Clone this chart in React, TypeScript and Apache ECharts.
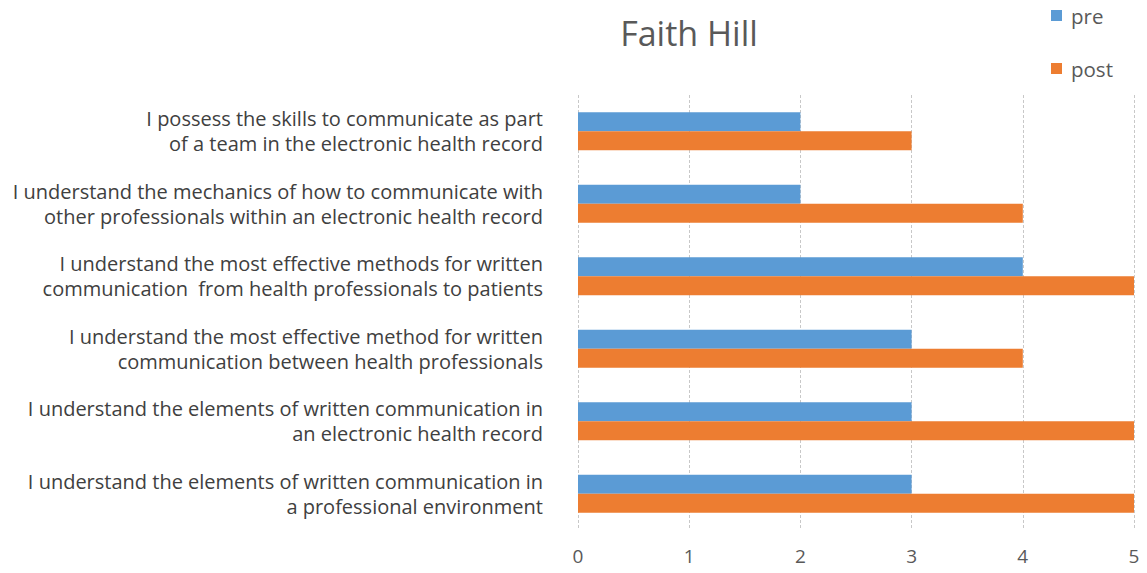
import React, { useEffect, useRef } from "react";
import * as echarts from "echarts";

const categories = [
  "I possess the skills to communicate as part\nof a team in the electronic health record",
  "I understand the mechanics of how to communicate with\nother professionals within an electronic health record",
  "I understand the most effective methods for written\ncommunication  from health professionals to patients",
  "I understand the most effective method for written\ncommunication between health professionals",
  "I understand the elements of written communication in\nan electronic health record",
  "I understand the elements of written communication in\na professional environment",
];
const preValues = [2, 2, 4, 3, 3, 3];
const postValues = [3, 4, 5, 4, 5, 5];
const xTicks = [0, 1, 2, 3, 4, 5];

export default function App() {
  const ref = useRef<HTMLDivElement>(null);
  useEffect(() => {
    const chart = echarts.init(ref.current!, null, { renderer: "svg" });
    chart.setOption({
      animation: false,
      textStyle: { fontFamily: "Open Sans" },
      title: {
        text: "Faith Hill",
        left: 684,
        top: 11,
        textAlign: "center",
        textStyle: { fontSize: 34, fontWeight: "normal", color: "#595959", fontFamily: "Open Sans" },
      },
      legend: {
        data: ["pre", "post"],
        orient: "vertical",
        left: 1046,
        top: 0,
        itemGap: 32,
        itemWidth: 11,
        itemHeight: 11,
        icon: "rect",
        textStyle: { fontSize: 20.5, color: "#595959", fontFamily: "Open Sans", padding: [0, 0, 0, 4] },
      },
      grid: { left: 578, right: 13, top: 95, bottom: 43, containLabel: false },
      xAxis: {
        type: "value",
        min: xTicks[0],
        max: xTicks[xTicks.length - 1],
        interval: 1,
        axisLine: { show: false },
        axisTick: { show: false },
        splitLine: { show: true, lineStyle: { color: "#c8c8c8", type: [3, 2] } },
        axisLabel: { fontSize: 19, color: "#595959", margin: 16 },
      },
      yAxis: {
        type: "category",
        data: categories,
        inverse: true,
        axisLine: { show: false },
        axisTick: { show: false },
        axisLabel: {
          fontSize: 20,
          color: "#404040",
          margin: 35,
          lineHeight: 25,
          align: "right",
        },
      },
      series: [
        {
          name: "pre",
          type: "bar",
          data: preValues,
          barWidth: 19,
          barGap: "0%",
          itemStyle: { color: "#5b9bd5" },
        },
        {
          name: "post",
          type: "bar",
          data: postValues,
          barWidth: 19,
          barGap: "0%",
          itemStyle: { color: "#ed7d31" },
        },
      ],
    });
    return () => chart.dispose();
  }, []);
  return <div ref={ref} style={{ width: 1147, height: 573, margin: -8 }} />;
}
